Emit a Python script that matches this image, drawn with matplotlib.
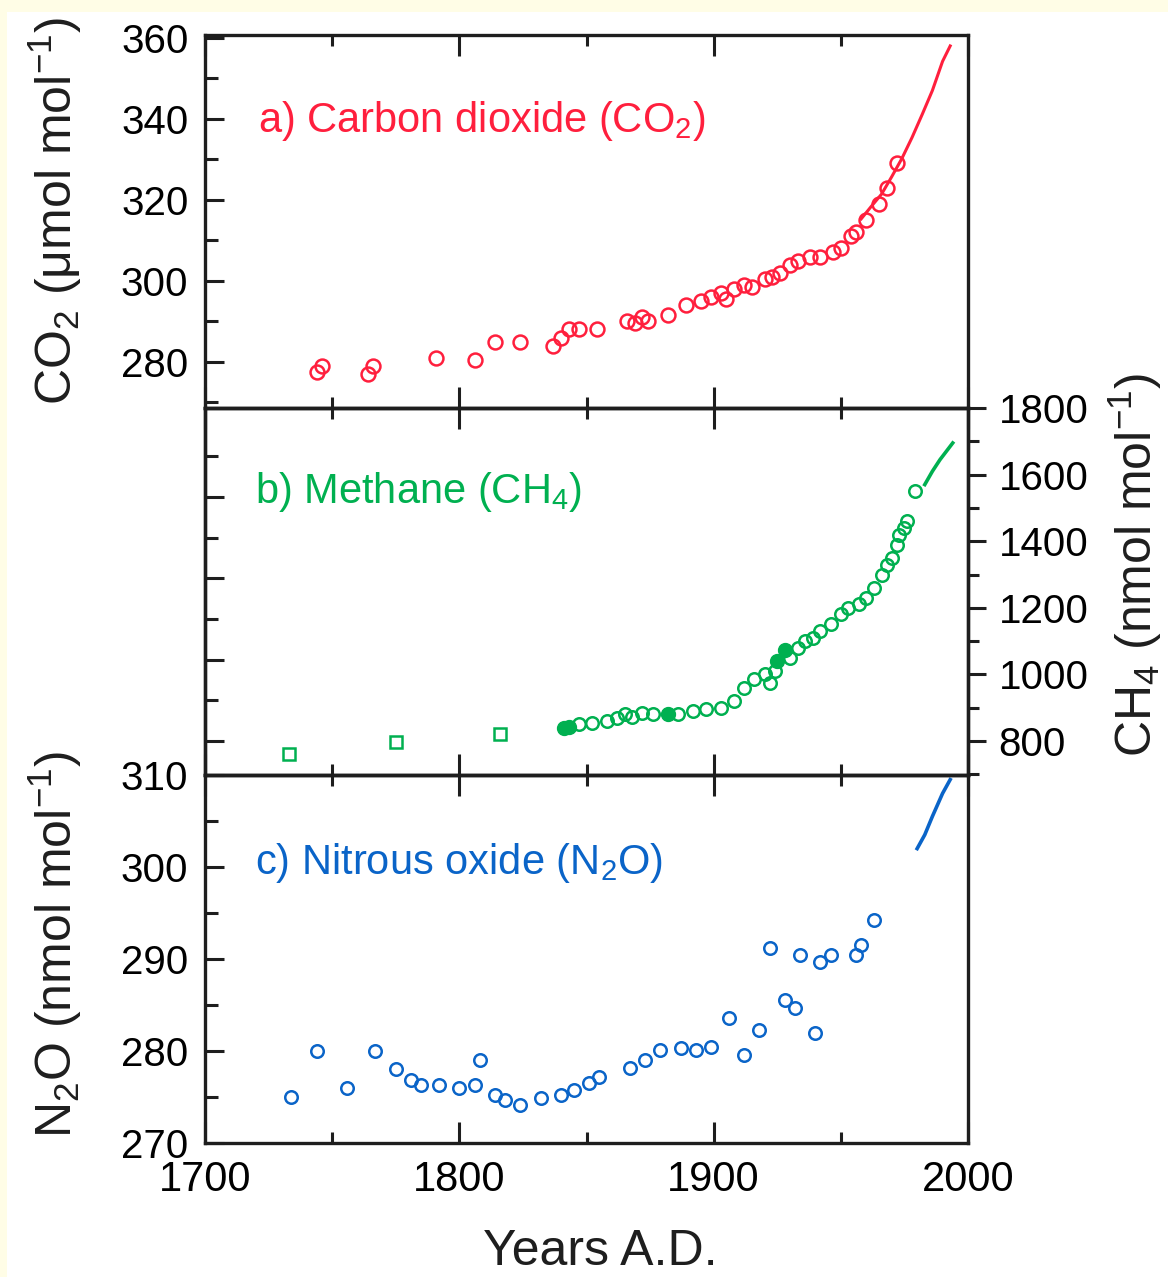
import matplotlib
matplotlib.use("Agg")
import matplotlib.pyplot as plt
from matplotlib.patches import Rectangle
from matplotlib.ticker import MultipleLocator

plt.rcParams["font.family"] = ["Liberation Sans", "DejaVu Sans"]
plt.rcParams["mathtext.fontset"] = "custom"
plt.rcParams["mathtext.rm"] = "Liberation Sans"
plt.rcParams["mathtext.default"] = "regular"

RED = "#ff1f3d"
GREEN = "#00b050"
BLUE = "#0a64c8"
INK = "#1e1e1e"

# --- a) CO2: ice core samples + atmospheric record
co2_core_years = [1744, 1746, 1764, 1766, 1791, 1806, 1814, 1824, 1837, 1840,
                  1843, 1847, 1854, 1866, 1869, 1872, 1874, 1882, 1889, 1895,
                  1899, 1903, 1905, 1908, 1912, 1915, 1920, 1923, 1926, 1930,
                  1933, 1938, 1942, 1947, 1950, 1954, 1956, 1960, 1965, 1968,
                  1972]
co2_core_values = [277.5, 279.0, 277.0, 279.0, 281.0, 280.5, 285.0, 285.0, 284.0, 286.0,
                   288.0, 288.0, 288.0, 290.0, 289.5, 291.0, 290.0, 291.5, 294.0, 295.0,
                   296.0, 297.0, 295.5, 298.0, 299.0, 298.5, 300.5, 301.0, 302.0, 304.0,
                   305.0, 306.0, 306.0, 307.0, 308.0, 311.0, 312.0, 315.0, 319.0, 323.0,
                   329.0]
co2_air_years = [1958, 1962, 1966, 1970, 1974, 1978, 1982, 1986, 1990, 1993]
co2_air_values = [315.3, 318.4, 321.4, 325.7, 330.2, 335.4, 341.1, 347.0, 354.2, 358.0]

# --- b) CH4
ch4_sq_years = [1733, 1775, 1816]
ch4_sq_values = [760, 797, 820]
ch4_filled_years = [1841, 1843, 1882, 1925, 1928]
ch4_filled_values = [838, 842, 881, 1040, 1072]
ch4_open_years = [1847, 1852, 1858, 1862, 1865, 1868, 1872, 1876, 1886, 1892,
                  1897, 1903, 1908, 1912, 1916, 1920, 1922, 1924, 1930, 1933,
                  1936, 1939, 1942, 1946, 1950, 1953, 1957, 1960, 1963, 1966,
                  1968, 1970, 1972, 1973, 1975, 1976, 1979]
ch4_open_values = [850, 855, 860, 868, 880, 872, 885, 882, 882, 890,
                   895, 900, 920, 960, 985, 1000, 975, 1010, 1050, 1080,
                   1100, 1110, 1130, 1150, 1180, 1200, 1210, 1230, 1260, 1300,
                   1330, 1350, 1390, 1420, 1440, 1460, 1550]
ch4_air_years = [1983, 1986, 1989, 1992, 1994]
ch4_air_values = [1570, 1610, 1645, 1675, 1695]

# --- c) N2O
n2o_core_years = [1734, 1744, 1756, 1767, 1775, 1781, 1785, 1792, 1800, 1806,
                  1808, 1814, 1818, 1824, 1832, 1840, 1845, 1851, 1855, 1867,
                  1873, 1879, 1887, 1893, 1899, 1906, 1912, 1918, 1922, 1928,
                  1932, 1934, 1940, 1942, 1946, 1956, 1958, 1963]
n2o_core_values = [275.0, 280.0, 276.0, 280.0, 278.0, 276.8, 276.3, 276.3, 276.0, 276.3,
                   279.0, 275.2, 274.7, 274.1, 274.9, 275.2, 275.8, 276.5, 277.2, 278.2,
                   279.0, 280.1, 280.3, 280.1, 280.4, 283.6, 279.6, 282.3, 291.2, 285.5,
                   284.7, 290.4, 282.0, 289.7, 290.4, 290.4, 291.5, 294.2]
n2o_air_years = [1980, 1983, 1986, 1990, 1993]
n2o_air_values = [302.0, 303.5, 305.5, 308.0, 309.5]

W, H = 1168, 1277
fig = plt.figure(figsize=(W / 100, H / 100), dpi=100)
fig.patch.set_facecolor("#fffde6")
fig.patches.append(Rectangle((7 / W, 0), 1, 1 - 12 / H, transform=fig.transFigure,
                             facecolor="white", edgecolor="none", zorder=-5))

left, width = 205 / W, (968 - 205) / W


def panel(y_top, y_bot):
    return fig.add_axes([left, 1 - y_bot / H, width, (y_bot - y_top) / H])


ax_a = panel(35, 408)
ax_b = panel(408, 775)
ax_c = panel(775, 1143)
ax_b2 = ax_b.twinx()

for ax in (ax_a, ax_b, ax_c, ax_b2):
    ax.set_facecolor("none")
    for s in ax.spines.values():
        s.set_linewidth(2.4)
        s.set_color(INK)

for ax in (ax_a, ax_b, ax_c):
    ax.set_xlim(1700, 2000)
    ax.xaxis.set_major_locator(MultipleLocator(100))
    ax.xaxis.set_minor_locator(MultipleLocator(50))
    ax.tick_params(axis="x", which="both", direction="in", top=True, bottom=True,
                   labelbottom=False, color=INK, width=2.2)
    ax.tick_params(axis="x", which="major", length=15)
    ax.tick_params(axis="x", which="minor", length=8)
    ax.tick_params(axis="y", which="both", direction="in", left=True, right=False,
                   color=INK, width=2.2, labelsize=29, pad=12)
    ax.tick_params(axis="y", which="major", length=14)
    ax.tick_params(axis="y", which="minor", length=9)
ax_c.tick_params(axis="x", labelbottom=True, labelsize=30, pad=12)

# a) CO2
ax_a.plot(co2_core_years, co2_core_values, "o", ls="none", mfc="none", mec=RED,
          ms=10, mew=1.8)
ax_a.plot(co2_air_years, co2_air_values, "-", color=RED, lw=2.2)
ax_a.set_ylim(268.6, 360.7)
ax_a.yaxis.set_major_locator(MultipleLocator(20))
ax_a.yaxis.set_minor_locator(MultipleLocator(10))
ax_a.text(0.07, 0.77, "a) Carbon dioxide (CO$_2$)", transform=ax_a.transAxes,
          color=RED, fontsize=30, va="center")

# b) CH4 (right axis), left axis carries unlabelled ticks only
ax_b.set_ylim(0, 1)
ax_b.set_yticks([0.092, 0.314, 0.536, 0.758])
ax_b.set_yticks([0.203, 0.425, 0.647, 0.869], minor=True)
ax_b.tick_params(axis="y", labelleft=False)
ax_b2.plot(ch4_sq_years, ch4_sq_values, "s", ls="none", mfc="none", mec=GREEN,
           ms=9, mew=1.8)
ax_b2.plot(ch4_open_years, ch4_open_values, "o", ls="none", mfc="none", mec=GREEN,
           ms=9, mew=1.8)
ax_b2.plot(ch4_filled_years, ch4_filled_values, "o", ls="none", color=GREEN, ms=10)
ax_b2.plot(ch4_air_years, ch4_air_values, "-", color=GREEN, lw=2.6)
ax_b2.set_ylim(698, 1800)
ax_b2.yaxis.set_major_locator(MultipleLocator(200))
ax_b2.yaxis.set_minor_locator(MultipleLocator(100))
ax_b2.tick_params(axis="y", which="both", direction="out", right=True, left=False,
                  color=INK, width=2.2, labelsize=29, pad=9)
ax_b2.tick_params(axis="y", which="major", length=13)
ax_b2.tick_params(axis="y", which="minor", length=8)
ax_b.text(0.065, 0.77, "b) Methane (CH$_4$)", transform=ax_b.transAxes,
          color=GREEN, fontsize=30, va="center")

# c) N2O
ax_c.plot(n2o_core_years, n2o_core_values, "o", ls="none", mfc="none", mec=BLUE,
          ms=9, mew=1.8)
ax_c.plot(n2o_air_years, n2o_air_values, "-", color=BLUE, lw=2.6)
ax_c.set_ylim(270, 310)
ax_c.yaxis.set_major_locator(MultipleLocator(10))
ax_c.yaxis.set_minor_locator(MultipleLocator(5))
ax_c.text(0.065, 0.76, "c) Nitrous oxide (N$_2$O)", transform=ax_c.transAxes,
          color=BLUE, fontsize=30, va="center")

# axis titles
fig.text(55 / W, 1 - 211 / H, "CO$_2$ (μmol mol$^{-1}$)", rotation=90,
         ha="center", va="center", fontsize=36, color=INK)
fig.text(55 / W, 1 - 945 / H, "N$_2$O (nmol mol$^{-1}$)", rotation=90,
         ha="center", va="center", fontsize=36, color=INK)
fig.text(1135 / W, 1 - 565 / H, "CH$_4$ (nmol mol$^{-1}$)", rotation=90,
         ha="center", va="center", fontsize=36, color=INK)
fig.text(600 / W, 1 - 1252 / H, "Years A.D.", ha="center", va="center",
         fontsize=36, color=INK)

fig.savefig("out.png", dpi=100, facecolor=fig.get_facecolor())
